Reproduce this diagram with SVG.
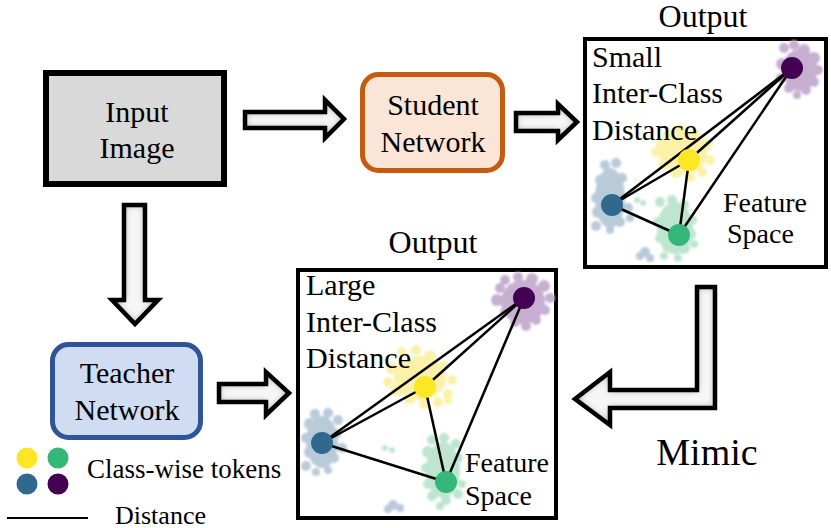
<svg xmlns="http://www.w3.org/2000/svg" width="831" height="528" viewBox="0 0 831 528" font-family="Liberation Serif, Times New Roman, serif">
<defs>
<filter id="inner" x="-10%" y="-10%" width="120%" height="120%">
<feComponentTransfer in="SourceAlpha" result="inv"><feFuncA type="table" tableValues="1 0"/></feComponentTransfer>
<feGaussianBlur in="inv" stdDeviation="3.5" result="blur"/>
<feFlood flood-color="#404040" result="col"/>
<feComposite in="col" in2="blur" operator="in" result="sh"/>
<feComposite in="sh" in2="SourceAlpha" operator="in" result="ish"/>
<feMerge><feMergeNode in="SourceGraphic"/><feMergeNode in="ish"/></feMerge>
</filter>
<filter id="soft" x="-20%" y="-20%" width="140%" height="140%"><feGaussianBlur stdDeviation="1"/></filter>
<polygon id="a1" points="245,112 325,112 325,100 344,119 325,138 325,128 245,128"/>
<polygon id="a2" points="516,113 558,113 558,104 577,122 558,140 558,131 516,131"/>
<polygon id="a3" points="124,205 145,205 145,300 158,300 135,324 112,300 124,300"/>
<polygon id="a4" points="219,384 266,384 266,372 289,393 266,415 266,402 219,402"/>
<polygon id="a5" points="697,287 715,287 715,408 610,408 610,425 575,399 610,372 610,390 697,390"/>
</defs>
<style>
text{font-family:"Liberation Serif","Times New Roman",serif;fill:#000}
.afill{fill:#f6f6f6;stroke:none;filter:url(#inner)}
.aline{fill:none;stroke:#000;stroke-width:4.5;stroke-linejoin:miter}
.edge{stroke:#000;stroke-width:2.5;fill:none}
.cp{fill:#c6afd1}
.cy{fill:#fbf1a8}
.cb{fill:#b9cad9}
.cg{fill:#bee5cf}
.dp{fill:#440154}.dy{fill:#fde725}.db{fill:#31688e}.dg{fill:#35b779}
</style>
<rect width="831" height="528" fill="#fff"/>

<g id="connectors">
<g class="afill"><use href="#a1"/><use href="#a2"/><use href="#a3"/><use href="#a4"/><use href="#a5"/></g>
<g class="aline"><use href="#a1"/><use href="#a2"/><use href="#a3"/><use href="#a4"/><use href="#a5"/></g>
</g>

<g id="input-image">
<rect x="46" y="73" width="178" height="111" fill="#d9d9d9" stroke="#000" stroke-width="6"/>
<text x="137" y="122" text-anchor="middle" font-size="30">Input</text>
<text x="137" y="158" text-anchor="middle" font-size="30">Image</text>
</g>

<g id="student-network">
<rect x="362.5" y="74.5" width="140" height="96" rx="16" fill="#fbe5d6" stroke="#c55a11" stroke-width="5"/>
<text x="433" y="115" text-anchor="middle" font-size="30">Student</text>
<text x="433" y="152" text-anchor="middle" font-size="30">Network</text>
</g>

<g id="teacher-network">
<rect x="52.5" y="344.5" width="148" height="93" rx="16" fill="#d0dcf1" stroke="#2f5597" stroke-width="5"/>
<text x="127" y="383" text-anchor="middle" font-size="30">Teacher</text>
<text x="127" y="420" text-anchor="middle" font-size="30">Network</text>
</g>

<g id="student-output">
<text x="703" y="27" text-anchor="middle" font-size="32">Output</text>
<rect x="585" y="39" width="241" height="228" fill="#fff" stroke="#000" stroke-width="4"/>
<g filter="url(#soft)">
<g class="cp">
<ellipse cx="800" cy="70" rx="17" ry="21"/>
<circle cx="784" cy="48" r="5"/><circle cx="794" cy="45" r="5"/><circle cx="804" cy="50" r="6"/><circle cx="814" cy="58" r="6"/><circle cx="818" cy="70" r="5"/><circle cx="814" cy="82" r="5"/><circle cx="806" cy="90" r="5"/><circle cx="797" cy="95" r="4"/><circle cx="789" cy="88" r="5"/><circle cx="781" cy="78" r="5"/><circle cx="782" cy="64" r="6"/><circle cx="792" cy="60" r="7"/>
</g>
<g class="cy">
<ellipse cx="683" cy="154" rx="24" ry="20"/>
<circle cx="668" cy="135" r="6"/><circle cx="680" cy="130" r="6"/><circle cx="694" cy="135" r="6"/><circle cx="706" cy="145" r="6"/><circle cx="710" cy="160" r="5"/><circle cx="702" cy="172" r="5"/><circle cx="690" cy="177" r="5"/><circle cx="676" cy="172" r="6"/><circle cx="664" cy="164" r="6"/><circle cx="656" cy="152" r="5"/><circle cx="662" cy="144" r="6"/>
</g>
<g class="cb">
<ellipse cx="610" cy="198" rx="15" ry="30"/>
<circle cx="605" cy="165" r="5"/><circle cx="616" cy="163" r="5"/><circle cx="600" cy="180" r="5"/><circle cx="622" cy="178" r="5"/><circle cx="596" cy="198" r="5"/><circle cx="628" cy="208" r="5"/><circle cx="598" cy="212" r="6"/><circle cx="620" cy="222" r="5"/><circle cx="596" cy="226" r="5"/><circle cx="610" cy="230" r="4"/><circle cx="630" cy="218" r="4"/><circle cx="645" cy="252" r="5"/><circle cx="650" cy="258" r="4"/><circle cx="640" cy="256" r="4"/>
</g>
<g class="cg">
<ellipse cx="675" cy="228" rx="18" ry="26"/>
<circle cx="660" cy="202" r="5"/><circle cx="672" cy="200" r="5"/><circle cx="684" cy="205" r="5"/><circle cx="692" cy="220" r="5"/><circle cx="658" cy="222" r="5"/><circle cx="690" cy="234" r="6"/><circle cx="660" cy="238" r="5"/><circle cx="668" cy="246" r="6"/><circle cx="684" cy="248" r="6"/><circle cx="694" cy="244" r="4"/><circle cx="664" cy="256" r="4"/><circle cx="678" cy="258" r="4"/><circle cx="637" cy="200" r="3"/><circle cx="643" cy="203" r="3"/>
</g>
</g>
<g class="edge">
<line x1="792" y1="68" x2="612" y2="205"/><line x1="792" y1="68" x2="689" y2="160"/><line x1="792" y1="68" x2="679" y2="235"/>
<line x1="612" y1="205" x2="689" y2="160"/><line x1="612" y1="205" x2="679" y2="235"/><line x1="689" y1="160" x2="679" y2="235"/>
</g>
<circle class="dp" cx="792" cy="68" r="11"/><circle class="dy" cx="689" cy="160" r="11"/><circle class="db" cx="612" cy="205" r="11"/><circle class="dg" cx="679" cy="235" r="11"/>
<text x="592" y="67" font-size="30">Small</text>
<text x="592" y="103" font-size="30">Inter-Class</text>
<text x="592" y="140" font-size="30">Distance</text>
<text x="723" y="212" font-size="28">Feature</text>
<text x="727" y="243" font-size="28">Space</text>
</g>

<g id="teacher-output">
<text x="433" y="253" text-anchor="middle" font-size="32">Output</text>
<rect x="298" y="270" width="258" height="248" fill="#fff" stroke="#000" stroke-width="4"/>
<g filter="url(#soft)">
<g class="cp">
<ellipse cx="523" cy="302" rx="22" ry="22"/>
<circle cx="505" cy="280" r="5"/><circle cx="518" cy="277" r="5"/><circle cx="532" cy="279" r="6"/><circle cx="544" cy="286" r="6"/><circle cx="550" cy="298" r="5"/><circle cx="545" cy="310" r="5"/><circle cx="536" cy="320" r="5"/><circle cx="526" cy="326" r="5"/><circle cx="515" cy="322" r="5"/><circle cx="505" cy="312" r="5"/><circle cx="497" cy="300" r="6"/><circle cx="500" cy="288" r="5"/>
</g>
<g class="cy">
<ellipse cx="420" cy="378" rx="26" ry="22"/>
<circle cx="402" cy="352" r="5"/><circle cx="416" cy="350" r="5"/><circle cx="430" cy="356" r="6"/><circle cx="444" cy="366" r="5"/><circle cx="452" cy="380" r="5"/><circle cx="448" cy="394" r="5"/><circle cx="438" cy="402" r="5"/><circle cx="424" cy="404" r="5"/><circle cx="410" cy="398" r="6"/><circle cx="396" cy="390" r="6"/><circle cx="388" cy="382" r="5"/><circle cx="392" cy="368" r="6"/><circle cx="448" cy="400" r="4"/>
</g>
<g class="cb">
<ellipse cx="322" cy="442" rx="16" ry="26"/>
<circle cx="315" cy="414" r="5"/><circle cx="328" cy="413" r="5"/><circle cx="338" cy="420" r="5"/><circle cx="310" cy="424" r="6"/><circle cx="306" cy="438" r="5"/><circle cx="336" cy="434" r="5"/><circle cx="342" cy="448" r="5"/><circle cx="310" cy="452" r="6"/><circle cx="334" cy="458" r="5"/><circle cx="306" cy="466" r="5"/><circle cx="316" cy="472" r="4"/><circle cx="328" cy="470" r="4"/><circle cx="393" cy="505" r="5"/><circle cx="400" cy="508" r="4"/><circle cx="388" cy="509" r="4"/>
</g>
<g class="cg">
<ellipse cx="443" cy="470" rx="17" ry="28"/>
<circle cx="432" cy="440" r="5"/><circle cx="444" cy="438" r="5"/><circle cx="456" cy="444" r="5"/><circle cx="428" cy="452" r="6"/><circle cx="458" cy="458" r="5"/><circle cx="426" cy="468" r="5"/><circle cx="454" cy="472" r="6"/><circle cx="428" cy="484" r="5"/><circle cx="432" cy="496" r="5"/><circle cx="446" cy="500" r="5"/><circle cx="458" cy="494" r="5"/><circle cx="440" cy="506" r="4"/><circle cx="462" cy="484" r="4"/><circle cx="385" cy="448" r="3"/><circle cx="392" cy="450" r="3"/>
</g>
</g>
<g class="edge">
<line x1="524" y1="298" x2="322" y2="443"/><line x1="524" y1="298" x2="425" y2="387"/><line x1="524" y1="298" x2="446" y2="482"/>
<line x1="322" y1="443" x2="425" y2="387"/><line x1="322" y1="443" x2="446" y2="482"/><line x1="425" y1="387" x2="446" y2="482"/>
</g>
<circle class="dp" cx="524" cy="298" r="11"/><circle class="dy" cx="425" cy="387" r="11"/><circle class="db" cx="322" cy="443" r="11"/><circle class="dg" cx="446" cy="482" r="11"/>
<text x="306" y="295" font-size="30">Large</text>
<text x="306" y="332" font-size="30">Inter-Class</text>
<text x="306" y="368" font-size="30">Distance</text>
<text x="465" y="472" font-size="28">Feature</text>
<text x="465" y="505" font-size="28">Space</text>
</g>

<g id="mimic-label">
<text x="707" y="465" text-anchor="middle" font-size="38">Mimic</text>
</g>

<g id="legend">
<circle class="dy" cx="27" cy="458" r="10.5"/><circle class="dg" cx="58" cy="458" r="10.5"/>
<circle class="db" cx="27" cy="484" r="10.5"/><circle class="dp" cx="58" cy="484" r="10.5"/>
<text x="87" y="478" font-size="27">Class-wise tokens</text>
<line x1="7" y1="518" x2="88" y2="518" stroke="#000" stroke-width="2"/>
<text x="115" y="524" font-size="26">Distance</text>
</g>
</svg>
